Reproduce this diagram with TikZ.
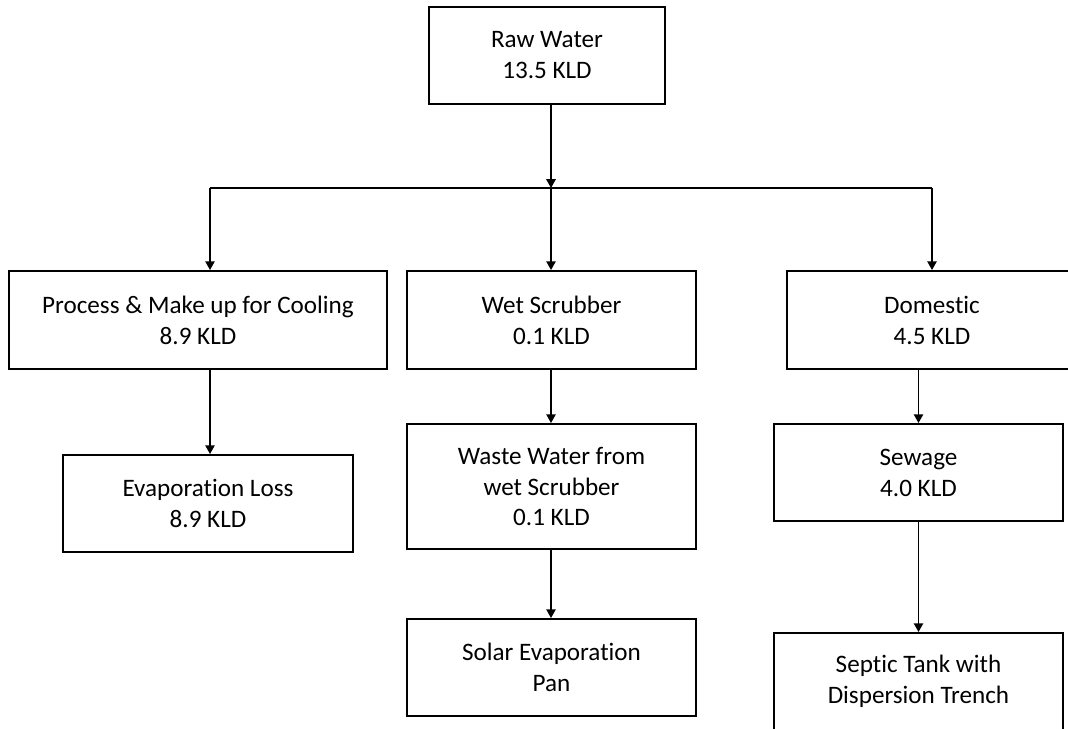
\documentclass[tikz,border=0pt]{standalone}
\usepackage{fontspec}
\setmainfont{Carlito}[Ligatures=NoCommon]
\usetikzlibrary{arrows.meta}

\begin{document}
\begin{tikzpicture}[x=0.02cm,y=-0.02cm]
\tikzstyle{every node}+=[inner sep=0pt]
\tikzstyle{box}=[draw=black,line width=1.1pt,minimum width=5.78cm,minimum height=1.94cm,align=center,font=\fontsize{14.3}{17.6}\selectfont]
\tikzstyle{flow}=[black,line width=1pt,-{Triangle[length=5pt,width=5.3pt]}]
\path[use as bounding box,fill=white] (0,0) rectangle (1068,729);
\clip (0,0) rectangle (1068,729);
% boxes
\node[box,minimum width=4.72cm] (raw) at (547,55.5) {Raw Water\\13.5 KLD};
\node[box,minimum width=7.56cm,minimum height=1.96cm] (proc) at (198,320) {Process \& Make up for Cooling\\8.9 KLD};
\node[box,minimum height=1.96cm] (wet) at (551.5,320) {Wet Scrubber\\0.1 KLD};
\node[box,minimum width=5.8cm,minimum height=1.96cm] (dom) at (932,320) {Domestic\\4.5 KLD};
\node[box,minimum width=5.8cm] (evap) at (208,503.5) {Evaporation Loss\\8.9 KLD};
\node[box,minimum height=2.5cm] (waste) at (551.5,486.5) {Waste Water from\\wet Scrubber\\0.1 KLD};
\node[box] (solar) at (551.5,667.5) {Solar Evaporation\\Pan};
\node[box] (sew) at (918.5,472.5) {Sewage\\4.0 KLD};
\node[box] (septic) at (918.5,681.5) {Septic Tank with\\Dispersion Trench};
% distribution line
\coordinate (jl) at (210,188);
\coordinate (jm) at (551,188);
\coordinate (jr) at (932,188);
\draw [black,line width=1pt] (jl) -- (jr);
\draw [flow] (raw.south -| jm) -- (jm);
\draw [flow] (jl) -- (proc.north -| jl);
\draw [flow] (jm) -- (wet.north -| jm);
\draw [flow] (jr) -- (dom.north -| jr);
% downstream
\draw [flow] (proc.south -| jl) -- (evap.north -| jl);
\draw [flow] (wet.south -| jm) -- (waste.north -| jm);
\draw [flow] (waste.south -| jm) -- (solar.north -| jm);
\draw [flow] (dom.south -| sew) -- (sew.north);
\draw [flow] (sew.south) -- (septic.north);
\end{tikzpicture}
\end{document}
